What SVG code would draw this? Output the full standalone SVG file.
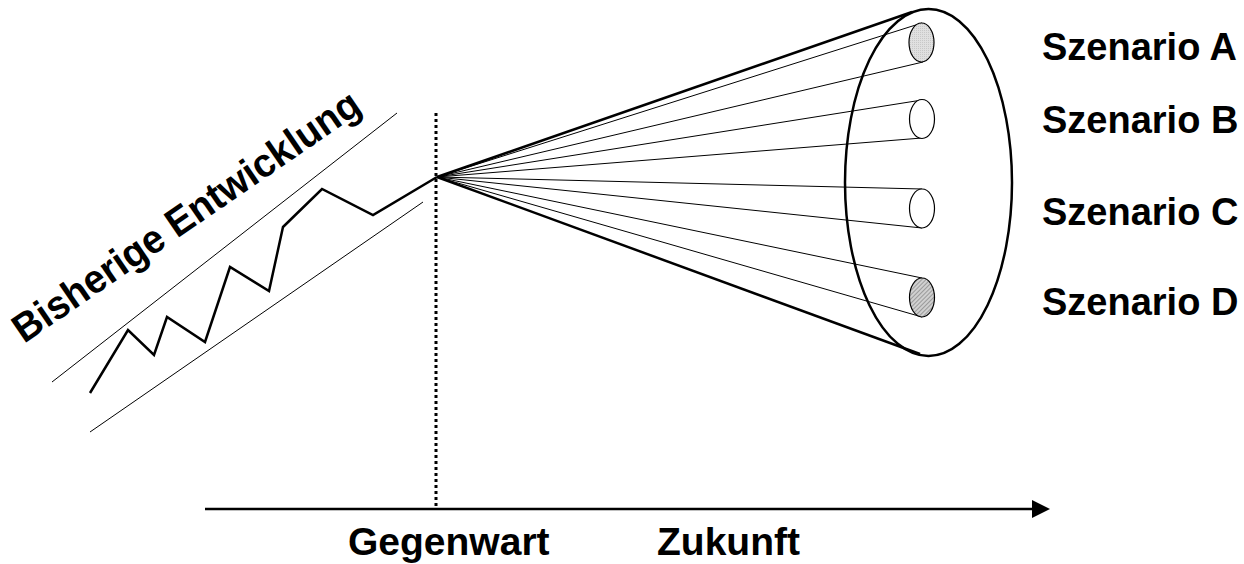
<svg xmlns="http://www.w3.org/2000/svg" width="1244" height="564" viewBox="0 0 1244 564">
<style>
.lbl{font-family:"Liberation Sans",Arial,sans-serif;font-weight:bold;fill:#000}
.thin{stroke:#000;stroke-width:1;fill:none}
.thick{stroke:#000;stroke-width:2.5;fill:none}
</style>
<defs>
<pattern id="dots" width="2" height="2" patternUnits="userSpaceOnUse">
<rect width="2" height="2" fill="#e0e0e0"/><rect width="1" height="1" fill="#c8c8c8"/>
</pattern>
<pattern id="hatch" width="3" height="3" patternUnits="userSpaceOnUse" patternTransform="rotate(45)">
<rect width="3" height="3" fill="#d0d0d0"/><rect width="1" height="3" fill="#9a9a9a"/>
</pattern>
</defs>
<rect width="1244" height="564" fill="#fff"/>
<g id="history">
<line class="thin" x1="52" y1="382" x2="397" y2="113"/>
<line class="thin" x1="90" y1="432" x2="423" y2="202"/>
<polyline fill="none" stroke="#000" stroke-width="2.5" stroke-linejoin="miter" points="90,393 128,330 154,355 167,317 205,342 230,267 269,291 283,227 322,189 373,215 437,177"/>
<text class="lbl" font-size="40" transform="translate(24,344) rotate(-34.5)" textLength="412" lengthAdjust="spacingAndGlyphs">Bisherige Entwicklung</text>
</g>
<g id="present-line">
<line x1="436" y1="113" x2="436" y2="507" stroke="#000" stroke-width="3" stroke-dasharray="3,3"/>
</g>
<g id="connectors">
<line class="thick" x1="437" y1="177" x2="912" y2="12"/>
<line class="thick" x1="437" y1="177" x2="920" y2="354"/>
<line class="thin" x1="437" y1="177" x2="922" y2="23"/>
<line class="thin" x1="437" y1="177" x2="923" y2="62"/>
<line class="thin" x1="437" y1="177" x2="922" y2="100"/>
<line class="thin" x1="437" y1="177" x2="922" y2="138"/>
<line class="thin" x1="437" y1="177" x2="922" y2="189"/>
<line class="thin" x1="437" y1="177" x2="922" y2="228"/>
<line class="thin" x1="437" y1="177" x2="922" y2="278"/>
<line class="thin" x1="437" y1="177" x2="922" y2="317"/>
</g>
<g id="cone">
<ellipse class="thick" cx="928.5" cy="182.5" rx="83.5" ry="173.5"/>
</g>
<g id="scenario-a">
<ellipse cx="921.5" cy="42.5" rx="12.5" ry="19.5" fill="url(#dots)" stroke="#000" stroke-width="1.2"/>
<text class="lbl" font-size="38" x="1042" y="60">Szenario A</text>
</g>
<g id="scenario-b">
<ellipse cx="922" cy="119" rx="12.5" ry="19.5" fill="#fff" stroke="#000" stroke-width="1.2"/>
<text class="lbl" font-size="38" x="1042" y="133">Szenario B</text>
</g>
<g id="scenario-c">
<ellipse cx="922" cy="208.5" rx="12.5" ry="19.5" fill="#fff" stroke="#000" stroke-width="1.2"/>
<text class="lbl" font-size="38" x="1042" y="225">Szenario C</text>
</g>
<g id="scenario-d">
<ellipse cx="922" cy="297.5" rx="12.5" ry="19.5" fill="url(#hatch)" stroke="#000" stroke-width="1.2"/>
<text class="lbl" font-size="38" x="1042" y="315">Szenario D</text>
</g>
<g id="time-axis">
<line x1="205" y1="509" x2="1034" y2="509" stroke="#000" stroke-width="2.5"/>
<polygon points="1032,500 1050,509 1032,518" fill="#000"/>
<text class="lbl" font-size="39" x="348" y="555">Gegenwart</text>
<text class="lbl" font-size="39" x="657" y="555">Zukunft</text>
</g>
</svg>
